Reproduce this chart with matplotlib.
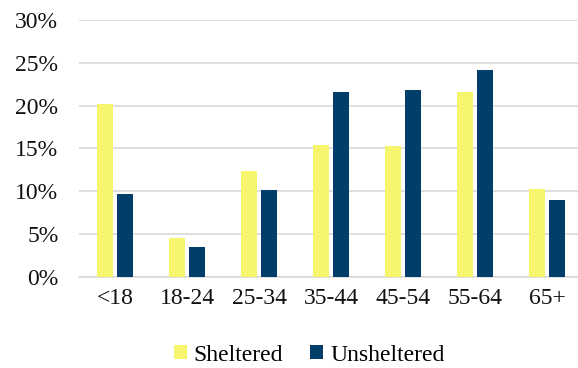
import matplotlib
matplotlib.use("Agg")
import matplotlib.pyplot as plt
import numpy as np
from matplotlib.ticker import PercentFormatter

categories = ["<18", "18-24", "25-34", "35-44", "45-54", "55-64", "65+"]
sheltered = [20.2, 4.6, 12.4, 15.4, 15.3, 21.6, 10.3]
unsheltered = [9.7, 3.5, 10.2, 21.6, 21.8, 24.1, 9.0]

plt.rcParams['font.family'] = ['Liberation Serif', 'DejaVu Serif']

fig = plt.figure(figsize=(5.78, 3.68), dpi=100)
ax = fig.add_axes([0.137, 0.247, 0.872, 0.699])

x = np.arange(len(categories))
w = 0.225
ax.bar(x - 0.14, sheltered, w, color='#F5F56E', label='Sheltered', zorder=3)
ax.bar(x + 0.14, unsheltered, w, color='#033D69', label='Unsheltered', zorder=3)

ax.set_xlim(-0.5, len(categories) - 0.5)
ax.set_ylim(0, 30)
ax.set_yticks(np.arange(0, 31, 5))
ax.yaxis.set_major_formatter(PercentFormatter(decimals=0))
ax.set_xticks(x)
ax.set_xticklabels(categories)
ax.tick_params(length=0, labelsize=17, colors='#111111')
ax.tick_params(axis='x', pad=8)
ax.tick_params(axis='y', pad=15)
ax.grid(axis='y', color='#D9D9D9', linewidth=1.2, zorder=0)
for s in ['top', 'right', 'left']:
    ax.spines[s].set_visible(False)
ax.spines['bottom'].set_color('#D9D9D9')
ax.spines['bottom'].set_linewidth(1.2)

fig.legend(loc='center', bbox_to_anchor=(0.535, 0.035), ncol=2, frameon=False,
           fontsize=17, handlelength=0.55, handleheight=0.55, handletextpad=0.3,
           columnspacing=1.15)

fig.savefig('out.png', dpi=100)
